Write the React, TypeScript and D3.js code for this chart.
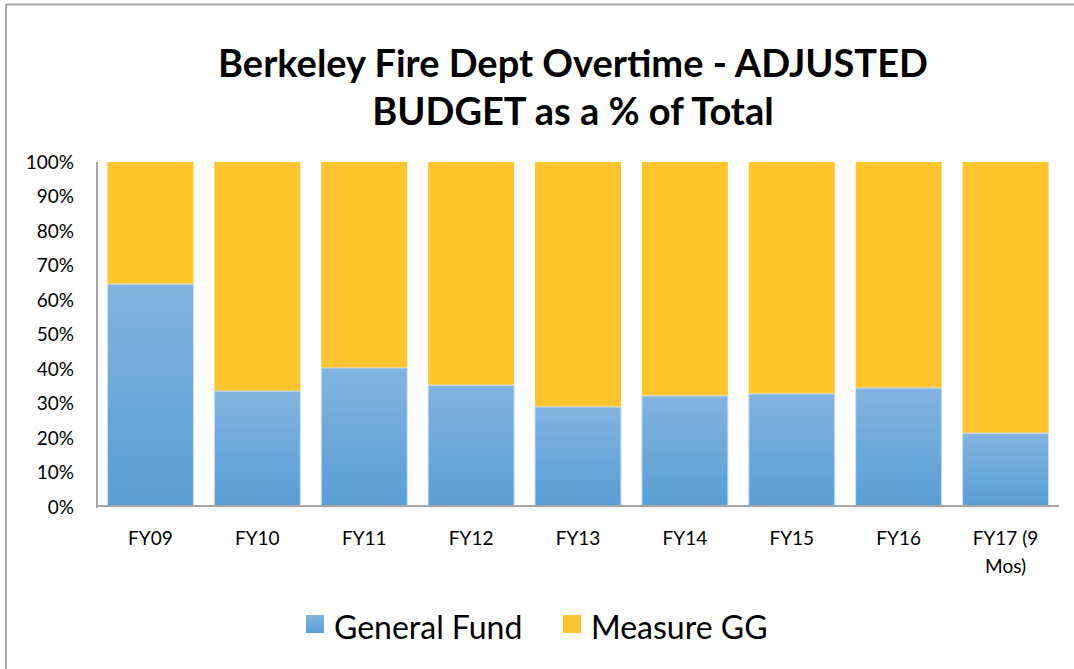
import React, { useEffect, useRef } from 'react';
import * as d3 from 'd3';

const categories = ['FY09', 'FY10', 'FY11', 'FY12', 'FY13', 'FY14', 'FY15', 'FY16', 'FY17 (9 Mos)'];
const categoryLines = [['FY09'], ['FY10'], ['FY11'], ['FY12'], ['FY13'], ['FY14'], ['FY15'], ['FY16'], ['FY17 (9', 'Mos)']];
const generalFund = [64.6, 33.6, 40.3, 35.3, 29.0, 32.2, 32.8, 34.5, 21.4];
const measureGG = generalFund.map(v => 100 - v);
const yTicks = [0, 10, 20, 30, 40, 50, 60, 70, 80, 90, 100];
const seriesNames = ['General Fund', 'Measure GG'];

const FONT = 'Lato, "Open Sans", sans-serif';

const App: React.FC = () => {
  const svgRef = useRef<SVGSVGElement>(null);

  useEffect(() => {
    if (!svgRef.current) return;
    const svg = d3.select(svgRef.current);
    svg.selectAll('*').remove();

    const width = 1074;
    const height = 669;

    const defs = svg.append('defs');
    const grad = defs.append('linearGradient')
      .attr('id', 'blueGrad')
      .attr('x1', 0).attr('y1', 0).attr('x2', 0).attr('y2', 1);
    grad.append('stop').attr('offset', '0%').attr('stop-color', '#82b4e0');
    grad.append('stop').attr('offset', '100%').attr('stop-color', '#589ed5');

    svg.append('rect').attr('width', width).attr('height', height).attr('fill', '#fff');

    // outer frame
    svg.append('line').attr('x1', 6).attr('x2', width).attr('y1', 4.5).attr('y2', 4.5)
      .attr('stroke', '#a6a6a6').attr('stroke-width', 2);
    svg.append('line').attr('x1', 6).attr('x2', 6).attr('y1', 4).attr('y2', height)
      .attr('stroke', '#a6a6a6').attr('stroke-width', 2);

    // title
    const title = svg.append('text')
      .attr('text-anchor', 'middle')
      .style('font-family', FONT)
      .style('font-weight', 700)
      .style('font-size', '38px')
      .attr('fill', '#000');
    title.append('tspan').attr('x', 573).attr('y', 77).text('Berkeley Fire Dept Overtime - ADJUSTED');
    title.append('tspan').attr('x', 573).attr('y', 125).text('BUDGET as a % of Total');

    const x = d3.scaleBand<string>()
      .domain(categories)
      .range([97, 1059])
      .paddingInner(0.195)
      .paddingOuter(0.0975);

    const y = d3.scaleLinear().domain([0, 100]).range([507, 162]);

    // bars
    const g = svg.append('g');
    g.selectAll('rect.gg')
      .data(categories)
      .join('rect')
      .attr('class', 'gg')
      .attr('x', d => x(d)!)
      .attr('width', x.bandwidth())
      .attr('y', (d, i) => y(generalFund[i] + measureGG[i]))
      .attr('height', (d, i) => y(generalFund[i]) - y(generalFund[i] + measureGG[i]))
      .attr('fill', '#fec52e');

    g.selectAll('rect.gf')
      .data(categories)
      .join('rect')
      .attr('class', 'gf')
      .attr('x', d => x(d)!)
      .attr('width', x.bandwidth())
      .attr('y', (d, i) => y(generalFund[i]))
      .attr('height', (d, i) => y(0) - y(generalFund[i]))
      .attr('fill', 'url(#blueGrad)')
      .attr('stroke', '#cfe2f3')
      .attr('stroke-width', 1);

    // axes
    svg.append('line').attr('x1', 97).attr('x2', 97).attr('y1', y(100)).attr('y2', y(0) + 1)
      .attr('stroke', '#a6a6a6').attr('stroke-width', 2);
    svg.append('line').attr('x1', 96).attr('x2', 1059).attr('y1', y(0) - 1).attr('y2', y(0) - 1)
      .attr('stroke', '#a6a6a6').attr('stroke-width', 2);

    // y tick labels
    svg.append('g').selectAll('text')
      .data(yTicks)
      .join('text')
      .attr('x', 74)
      .attr('y', d => y(d))
      .attr('dy', '0.36em')
      .attr('text-anchor', 'end')
      .style('font-family', FONT)
      .style('font-size', '19px')
      .attr('fill', '#000')
      .text(d => `${d}%`);

    // x labels
    const xl = svg.append('g').selectAll('text')
      .data(categories)
      .join('text')
      .attr('text-anchor', 'middle')
      .style('font-family', FONT)
      .style('font-size', '19px')
      .attr('fill', '#000');
    xl.each(function (d, i) {
      const t = d3.select(this);
      categoryLines[i].forEach((line, j) => {
        t.append('tspan')
          .attr('x', x(d)! + x.bandwidth() / 2)
          .attr('y', 545 + j * 28)
          .text(line);
      });
    });

    // legend
    const legendX = [306, 563];
    const legendFill = ['url(#blueGrad)', '#fec52e'];
    const lg = svg.append('g');
    seriesNames.forEach((name, i) => {
      lg.append('rect')
        .attr('x', legendX[i]).attr('y', 615)
        .attr('width', 18).attr('height', 18)
        .attr('fill', legendFill[i]);
      lg.append('text')
        .attr('x', legendX[i] + 28).attr('y', 639)
        .style('font-family', FONT)
        .style('font-size', '32px')
        .attr('fill', '#000')
        .text(name);
    });
  }, []);

  return (
    <div style={{ position: 'fixed', left: 0, top: 0 }}>
      <svg ref={svgRef} width={1074} height={669} style={{ display: 'block' }} />
    </div>
  );
};

export default App;
